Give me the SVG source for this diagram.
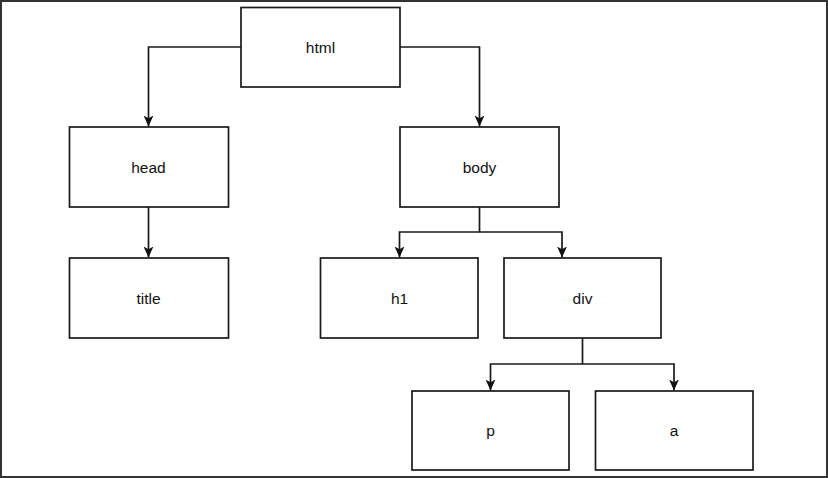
<svg xmlns="http://www.w3.org/2000/svg" width="828" height="478" viewBox="0 0 828 478">
<defs>
<style>
.box{fill:#fff;stroke:#1a1a1a;stroke-width:1.7}
.lbl{font-family:"Liberation Sans",Arial,sans-serif;font-size:15.5px;fill:#111;text-anchor:middle;dominant-baseline:central}
.edge{fill:none;stroke:#1a1a1a;stroke-width:1.7}
</style>
<marker id="arr" viewBox="0 0 10 10" refX="10" refY="5" markerWidth="11" markerHeight="11" markerUnits="userSpaceOnUse" orient="auto">
<path d="M0,0.5 L10,5 L0,9.5 L2.5,5 Z" fill="#111"/>
</marker>
</defs>
<rect x="0" y="0" width="828" height="478" fill="#fff"/>
<rect x="1" y="1" width="826" height="476" fill="none" stroke="#333" stroke-width="2"/>
<g id="connectors">
<path class="edge" d="M241,47 H148.5 V126.5" marker-end="url(#arr)"/>
<path class="edge" d="M400,47 H479.5 V126.5" marker-end="url(#arr)"/>
<path class="edge" d="M148.5,207 V257.5" marker-end="url(#arr)"/>
<path class="edge" d="M479.5,207 V232 H399.5 V257.5" marker-end="url(#arr)"/>
<path class="edge" d="M479.5,232 H562 V257.5" marker-end="url(#arr)"/>
<path class="edge" d="M582.5,338 V364 H490.5 V390.5" marker-end="url(#arr)"/>
<path class="edge" d="M582.5,364 H674 V390.5" marker-end="url(#arr)"/>
</g>
<g id="html"><rect class="box" x="241" y="7.5" width="159" height="79.5"/><text class="lbl" x="320.5" y="47">html</text></g>
<g id="head"><rect class="box" x="69.5" y="127" width="159" height="80"/><text class="lbl" x="148.5" y="167">head</text></g>
<g id="body"><rect class="box" x="400" y="127" width="159" height="80"/><text class="lbl" x="479.5" y="167">body</text></g>
<g id="title"><rect class="box" x="69.5" y="258" width="159" height="80"/><text class="lbl" x="148.5" y="298">title</text></g>
<g id="h1"><rect class="box" x="320.5" y="258" width="157.5" height="80"/><text class="lbl" x="399.5" y="298">h1</text></g>
<g id="div"><rect class="box" x="504" y="258" width="157" height="80"/><text class="lbl" x="582.5" y="298">div</text></g>
<g id="p"><rect class="box" x="412" y="391" width="157" height="79"/><text class="lbl" x="490.5" y="430.5">p</text></g>
<g id="a"><rect class="box" x="595.5" y="391" width="157.5" height="79"/><text class="lbl" x="674" y="430.5">a</text></g>
</svg>
